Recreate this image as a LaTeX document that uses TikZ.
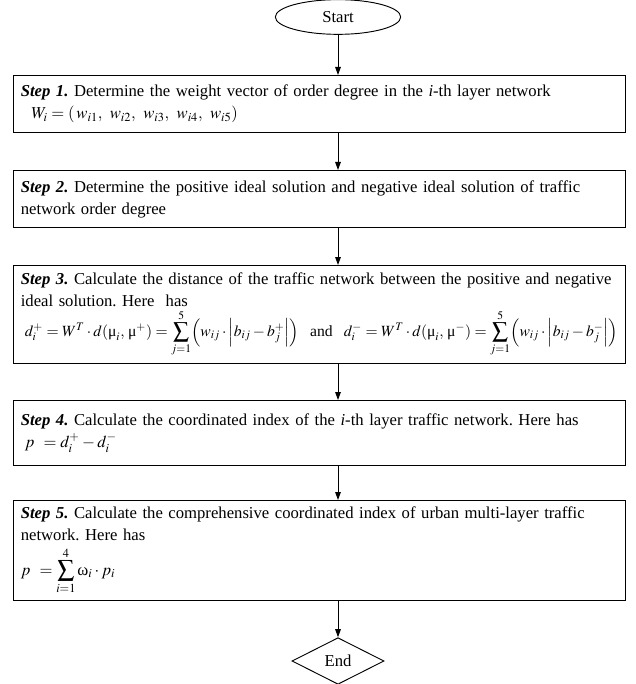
\documentclass[tikz,border=0pt]{standalone}
\usepackage{mathptmx}
\usepackage{amsmath}
\usepackage{fontspec}
\setmainfont{Liberation Serif}
\usepackage{tikz}
\usetikzlibrary{shapes.geometric,arrows.meta,calc}
\frenchspacing

\tikzset{
  stepbox/.style={draw, line width=0.7pt, anchor=north west, text width=448pt,
    inner xsep=5.5pt, inner ysep=2pt, align=left, font=\fontsize{12.5}{16.5}\selectfont},
  startnode/.style={ellipse, draw, line width=0.7pt, minimum width=94pt, minimum height=26pt,
    inner sep=0pt, font=\fontsize{12.5}{14}\selectfont},
  endnode/.style={diamond, draw, line width=0.7pt, minimum width=69pt, minimum height=35pt,
    inner sep=0pt, font=\fontsize{12.5}{14}\selectfont},
  flow/.style={line width=0.7pt, -{Triangle[length=6pt,width=4.2pt]}}
}

\begin{document}
\begin{tikzpicture}[x=0.75pt,y=-0.75pt]
        \useasboundingbox (0,0) rectangle (635,684);

        \node[startnode] (start) at (338,17) {Start};

        \node[stepbox, minimum height=42.75pt] (step1) at (13,75)
          {\textbf{\textit{Step 1.}} Determine the weight vector of order degree in the \textit{i}-th layer network\\
           \hspace*{8pt}$W_i = (\,w_{i1},\ w_{i2},\ w_{i3},\ w_{i4},\ w_{i5})$};

        \node[stepbox, minimum height=42.75pt] (step2) at (13,170)
          {\textbf{\textit{Step 2.}} Determine the positive ideal solution and negative ideal solution of traffic\\
           network order degree};

        \node[stepbox, minimum height=73.5pt] (step3) at (13,265)
          {\mbox{\textbf{\textit{Step 3.}} Calculate the distance of the traffic network between the positive and negative}\\
           ideal solution. Here\ \ has\\[2pt]
           {\fontsize{11.7}{14}\selectfont
           \hspace*{3pt}$\displaystyle d_i^+ = W^T\cdot d(\text{μ}_i,\,\text{μ}^+) = \sum_{j=1}^{5}\Bigl(w_{ij}\cdot\Bigl|b_{ij}-b_j^+\Bigr|\Bigr)$
           \ and\ \ $\displaystyle d_i^- = W^T\cdot d(\text{μ}_i,\,\text{μ}^-) = \sum_{j=1}^{5}\Bigl(w_{ij}\cdot\Bigl|b_{ij}-b_j^-\Bigr|\Bigr)$}};

        \node[stepbox, minimum height=48.75pt] (step4) at (13,400)
          {\textbf{\textit{Step 4.}} Calculate the coordinated index of the \textit{i}-th layer traffic network. Here has\\
           \hspace*{3pt}$p\ = d_i^+ - d_i^-$};

        \node[stepbox, minimum height=75pt] (step5) at (13,500)
          {\textbf{\textit{Step 5.}} Calculate the comprehensive coordinated index of urban multi-layer traffic\\
           network. Here has\\[4pt]
           $\displaystyle p\ = \sum_{i=1}^{4}\text{ω}_i\cdot p_i$};

        \node[endnode] (stop) at (338,661) {End};

        \draw[flow] (start.south) -- (start.south |- step1.north);
        \draw[flow] (step1.south -| start) -- (step2.north -| start);
        \draw[flow] (step2.south -| start) -- (step3.north -| start);
        \draw[flow] (step3.south -| start) -- (step4.north -| start);
        \draw[flow] (step4.south -| start) -- (step5.north -| start);
        \draw[flow] (step5.south -| start) -- (stop.north);

      \end{tikzpicture}
\end{document}
